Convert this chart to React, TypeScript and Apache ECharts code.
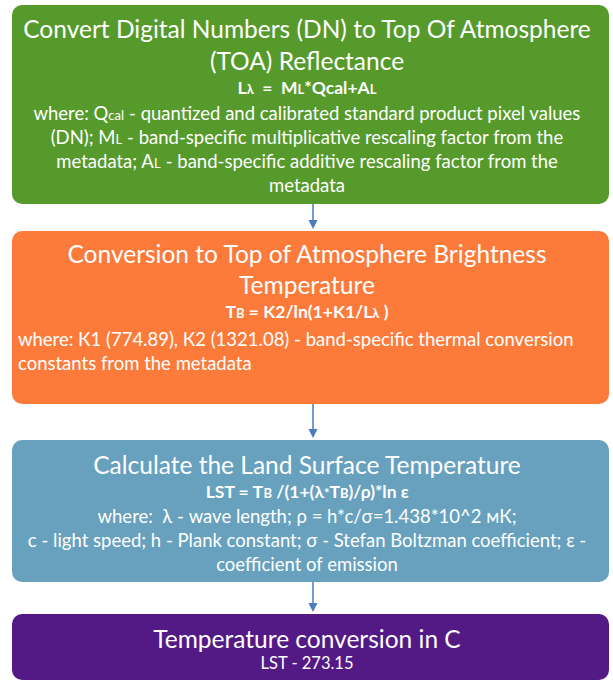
import React, { useEffect, useRef } from "react";
import * as echarts from "echarts";

// ---- content (text of each step) ----
const stepNames = ["toa", "bt", "lst", "celsius"];
const stepColors = ["#569a2c", "#fd7b3a", "#67a1be", "#531a86"];
const titleLines = [
  ["Convert Digital Numbers (DN) to Top Of Atmosphere", "(TOA) Reflectance"],
  ["Conversion to Top of Atmosphere Brightness", "Temperature"],
  ["Calculate the Land Surface Temperature"],
  ["Temperature conversion in C"],
];
const formulas = [
  "L{s|λ}  =  M{s|L}*Qcal+A{s|L}",
  "T{s|B} = K2/ln(1+K1/L{s|λ} )",
  "LST = T{s|B} /(1+(λ{s|*}T{s|B})/ρ)*ln ε",
  "LST - 273.15",
];
const formulaBold = [true, true, true, false];
const bodyLines = [
  [
    "where: Q{s|cal} - quantized and calibrated standard product pixel values",
    "(DN); M{s|L} - band-specific multiplicative rescaling factor from the",
    "metadata; A{s|L} - band-specific additive rescaling factor from the",
    "metadata",
  ],
  [
    "where: К1 (774.89), К2 (1321.08) - band-specific thermal conversion",
    "constants from the metadata",
  ],
  [
    "where:  λ - wave length; ρ = h*c/σ=1.438*10^2 мК;",
    "c - light speed; h - Plank constant; σ - Stefan Boltzman coefficient; ε -",
    "coefficient of emission",
  ],
  [],
];
const bodyAlign = ["center", "left", "center", "center"];

// ---- layout ----
const W = 613;
const H = 681;
const FONT = 'Lato, "Open Sans", sans-serif';
const BOX_X = 12;
const BOX_W = 597;
const boxTop = [5, 231, 440, 614];
const boxBottom = [204, 404, 582, 680];
const titleY = [[28, 60], [253, 284], [464], [638]];
const formulaY = [87, 311, 491, 663];
const bodyY = [[113, 137, 161, 185], [339, 363], [516, 540, 564], []];
const ARROW_X = 313;
const ARROW_COLOR = "#4a7cc0";

function subStyle(size: number, bold: boolean) {
  return {
    fontFamily: FONT,
    fontSize: size,
    fontWeight: bold ? "bold" : "normal",
    fill: "#ffffff",
    verticalAlign: "bottom",
    lineHeight: size,
    padding: [0, 0, 1, 0],
  };
}

function buildGraphic() {
  const els: any[] = [];
  stepNames.forEach((name, i) => {
    els.push({
      type: "rect",
      id: name + "-box",
      shape: { x: BOX_X, y: boxTop[i], width: BOX_W, height: boxBottom[i] - boxTop[i], r: 10 },
      style: { fill: stepColors[i] },
    });
    titleLines[i].forEach((t, j) => {
      els.push({
        type: "text",
        x: W / 2 + 0.5,
        y: titleY[i][j],
        style: {
          text: t,
          fill: "#ffffff",
          fontFamily: FONT,
          fontSize: 24.5,
          fontWeight: "normal",
          align: "center",
          verticalAlign: "middle",
        },
      });
    });
    const bold = formulaBold[i];
    const fsz = bold ? 17.5 : 16.5;
    els.push({
      type: "text",
      x: W / 2 + 0.5,
      y: formulaY[i],
      style: {
        text: formulas[i],
        fill: "#ffffff",
        fontFamily: FONT,
        fontSize: fsz,
        fontWeight: bold ? "bold" : "normal",
        align: "center",
        verticalAlign: "middle",
        rich: { s: subStyle(13, bold) },
      },
    });
    bodyLines[i].forEach((t, j) => {
      const left = bodyAlign[i] === "left";
      els.push({
        type: "text",
        x: left ? 18 : W / 2 + 0.5,
        y: bodyY[i][j],
        style: {
          text: t,
          fill: "#ffffff",
          fontFamily: FONT,
          fontSize: 18.5,
          align: left ? "left" : "center",
          verticalAlign: "middle",
          rich: { s: subStyle(13, false) },
        },
      });
    });
    if (i < stepNames.length - 1) {
      const y0 = boxBottom[i];
      const y1 = boxTop[i + 1] - 2;
      els.push({
        type: "line",
        shape: { x1: ARROW_X, y1: y0, x2: ARROW_X, y2: y1 - 8 },
        style: { stroke: ARROW_COLOR, lineWidth: 1.5 },
      });
      els.push({
        type: "polygon",
        shape: {
          points: [
            [ARROW_X - 4.5, y1 - 9],
            [ARROW_X + 4.5, y1 - 9],
            [ARROW_X, y1],
          ],
        },
        style: { fill: ARROW_COLOR },
      });
    }
  });
  return els;
}

export default function App() {
  const ref = useRef<HTMLDivElement>(null);
  useEffect(() => {
    if (!ref.current) return;
    const chart = echarts.init(ref.current, undefined, { renderer: "svg" });
    chart.setOption({
      animation: false,
      backgroundColor: "#ffffff",
      graphic: buildGraphic(),
    });
    return () => chart.dispose();
  }, []);
  return (
    <div
      ref={ref}
      style={{ position: "absolute", left: 0, top: 0, width: W, height: H }}
    />
  );
}
